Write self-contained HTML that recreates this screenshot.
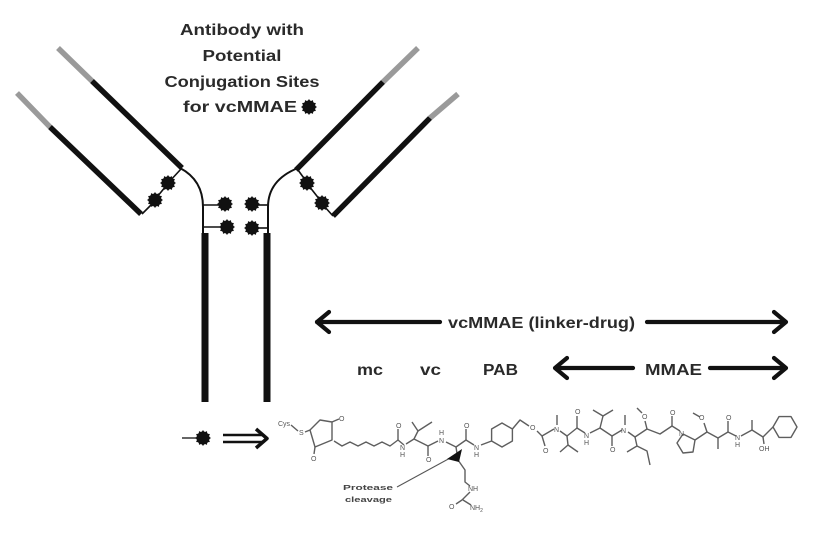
<!DOCTYPE html>
<html><head><meta charset="utf-8"><style>
html,body{margin:0;padding:0;background:#fff;}
svg{display:block;}
</style></head><body>
<svg width="836" height="533" viewBox="0 0 836 533" xmlns="http://www.w3.org/2000/svg">
<defs>
<g id="st">
<polygon fill="#111" points="8,0 5.8,1.55 6.93,4 4.24,4.24 4,6.93 1.55,5.8 0,8 -1.55,5.8 -4,6.93 -4.24,4.24 -6.93,4 -5.8,1.55 -8,0 -5.8,-1.55 -6.93,-4 -4.24,-4.24 -4,-6.93 -1.55,-5.8 0,-8 1.55,-5.8 4,-6.93 4.24,-4.24 6.93,-4 5.8,-1.55"/>
<circle r="6.5" fill="#111"/>
</g>
</defs>
<rect width="836" height="533" fill="#fff"/>

<!-- Title -->
<g font-family="Liberation Sans, sans-serif" font-weight="bold" font-size="16" fill="#2a2a2a" text-anchor="middle">
<text x="242" y="35" textLength="124" lengthAdjust="spacingAndGlyphs">Antibody with</text>
<text x="242" y="61" textLength="79" lengthAdjust="spacingAndGlyphs">Potential</text>
<text x="242" y="87" textLength="155" lengthAdjust="spacingAndGlyphs">Conjugation Sites</text>
<text x="240" y="112" textLength="114" lengthAdjust="spacingAndGlyphs">for vcMMAE</text>
</g>
<use href="#st" x="309" y="107"/>

<!-- Antibody arms -->
<g stroke-linecap="butt" fill="none">
<line x1="17" y1="93" x2="50" y2="127" stroke="#9a9a9a" stroke-width="5.5"/>
<line x1="50" y1="127" x2="141" y2="214" stroke="#111" stroke-width="5.5"/>
<line x1="58" y1="48" x2="92" y2="81" stroke="#9a9a9a" stroke-width="5.5"/>
<line x1="92" y1="81" x2="182" y2="168" stroke="#111" stroke-width="5.5"/>
<line x1="418" y1="48" x2="383" y2="82" stroke="#9a9a9a" stroke-width="5.5"/>
<line x1="383" y1="82" x2="296" y2="170" stroke="#111" stroke-width="5.5"/>
<line x1="458" y1="94" x2="430" y2="118" stroke="#9a9a9a" stroke-width="5.5"/>
<line x1="430" y1="118" x2="333" y2="216" stroke="#111" stroke-width="5.5"/>
<path d="M180,168 Q203,180 203,207 L203,234" stroke="#111" stroke-width="2"/>
<path d="M298,168 Q268,180 268,207 L268,234" stroke="#111" stroke-width="2"/>
<line x1="205" y1="233" x2="205" y2="402" stroke="#111" stroke-width="7"/>
<line x1="267" y1="233" x2="267" y2="402" stroke="#111" stroke-width="7"/>
<g stroke="#111" stroke-width="1.6">
<line x1="181" y1="169" x2="169" y2="182"/>
<line x1="166" y1="186" x2="157" y2="197"/>
<line x1="153" y1="203" x2="142" y2="214"/>
<line x1="298" y1="170" x2="306" y2="181"/>
<line x1="309" y1="186" x2="320" y2="200"/>
<line x1="324" y1="206" x2="333" y2="216"/>
<line x1="203" y1="205" x2="220" y2="205"/>
<line x1="203" y1="227" x2="220" y2="227"/>
<line x1="257" y1="205" x2="268" y2="205"/>
<line x1="257" y1="228" x2="268" y2="228"/>
</g>
</g>
<use href="#st" x="168" y="183"/>
<use href="#st" x="155" y="200"/>
<use href="#st" x="225" y="204"/>
<use href="#st" x="252" y="204"/>
<use href="#st" x="227" y="227"/>
<use href="#st" x="252" y="228"/>
<use href="#st" x="307" y="183"/>
<use href="#st" x="322" y="203"/>

<!-- Arrows -->
<g stroke="#111" stroke-width="4.2" fill="none" stroke-linecap="round" stroke-linejoin="round">
<line x1="317" y1="322" x2="440" y2="322"/>
<polyline points="329,312 317,322 329,332"/>
<line x1="647" y1="322" x2="784" y2="322"/>
<polyline points="774,312 786,322 774,332"/>
<line x1="556" y1="368" x2="633" y2="368"/>
<polyline points="567,358 555,368 567,378"/>
<line x1="710" y1="368" x2="784" y2="368"/>
<polyline points="774,358 786,368 774,378"/>
</g>
<g font-family="Liberation Sans, sans-serif" font-weight="bold" font-size="16" fill="#2a2a2a">
<text x="448" y="328" textLength="187" lengthAdjust="spacingAndGlyphs">vcMMAE (linker-drug)</text>
<text x="357" y="375" textLength="26" lengthAdjust="spacingAndGlyphs">mc</text>
<text x="420" y="375" textLength="21" lengthAdjust="spacingAndGlyphs">vc</text>
<text x="483" y="375" textLength="35" lengthAdjust="spacingAndGlyphs">PAB</text>
<text x="645" y="375" textLength="57" lengthAdjust="spacingAndGlyphs">MMAE</text>
</g>

<line x1="182" y1="438" x2="196" y2="438" stroke="#333" stroke-width="1.5"/>
<use href="#st" x="203" y="438"/>
<g stroke="#111" stroke-width="2.4" fill="none" stroke-linejoin="round">
<line x1="223" y1="435" x2="262" y2="435"/>
<line x1="223" y1="442" x2="262" y2="442"/>
<polyline points="256,429 267,438.5 256,448" stroke-width="3.5"/>
</g>

<!-- Chemical structure -->
<g stroke="#5e5e5e" stroke-width="1.4" fill="none" stroke-linejoin="round">
<line x1="291" y1="425" x2="298" y2="431"/>
<line x1="305" y1="432" x2="310" y2="430"/>
<polygon points="310,430 320,420 332,422 332,440 315,447"/>
<line x1="332" y1="422" x2="339" y2="419"/>
<line x1="315" y1="447" x2="314" y2="454"/>
<polyline points="334,441 342,446 350,442 358,446 366,442 374,446 382,442 390,446 398,440"/>
<line x1="398" y1="440" x2="398" y2="429"/>
<polyline points="398,440 404,445"/>
<polyline points="406,444 414,439 428,446 438,441"/>
<polyline points="414,439 418,431 412,422"/>
<line x1="418" y1="431" x2="432" y2="422"/>
<line x1="428" y1="446" x2="428" y2="456"/>
<polyline points="446,442 456,447 466,440 474,445"/>
<line x1="466" y1="440" x2="466" y2="429"/>
<polyline points="456,447 458,460 465,470 465,482 470,486"/>
<polyline points="470,492 462,500 456,504"/>
<line x1="463" y1="500" x2="471" y2="505"/>
<polyline points="481,445 491.6,441"/>
<polygon points="502,423 512.4,429 512.4,441 502,447 491.6,441 491.6,429"/>
<polyline points="512.4,429 520,420 529,426"/>
<polyline points="537,431 542,436 554,429"/>
<line x1="542" y1="436" x2="545" y2="446"/>
<line x1="557" y1="425" x2="557" y2="415"/>
<polyline points="560,431 567,436 577,428 585,433"/>
<polyline points="567,436 568,445 560,452"/>
<line x1="568" y1="445" x2="578" y2="452"/>
<line x1="577" y1="428" x2="577" y2="416"/>
<polyline points="590,433 600,428 612,436 622,430"/>
<polyline points="600,428 603,416 593,410"/>
<line x1="603" y1="416" x2="613" y2="410"/>
<line x1="612" y1="436" x2="612" y2="446"/>
<line x1="625" y1="425" x2="625" y2="415"/>
<polyline points="628,432 635,437 647,429 660,434 672,426 680,431"/>
<polyline points="635,437 637,446 627,452"/>
<polyline points="637,446 647,451 650,465"/>
<line x1="647" y1="429" x2="645" y2="421"/>
<line x1="642" y1="413" x2="637" y2="408"/>
<line x1="672" y1="426" x2="672" y2="416"/>
<polygon points="683,434 677,443 683,453 693,452 695,440"/>
<polyline points="695,440 707,432 718,438 728,432 736,436"/>
<line x1="707" y1="432" x2="704" y2="423"/>
<line x1="700" y1="417" x2="693" y2="413"/>
<line x1="718" y1="438" x2="718" y2="449"/>
<line x1="728" y1="432" x2="728" y2="421"/>
<polyline points="741,436 752,430 763,437 773,427"/>
<line x1="752" y1="430" x2="752" y2="420"/>
<line x1="763" y1="437" x2="764" y2="444"/>
<polygon points="797,427 791,437.4 779,437.4 773,427 779,416.6 791,416.6"/>
</g>
<g font-family="Liberation Sans, sans-serif" font-size="7" fill="#555">
<text x="278" y="426">Cys</text>
<text x="299" y="435">S</text>
<text x="339" y="421">O</text>
<text x="311" y="461">O</text>
<text x="396" y="428">O</text>
<text x="400" y="450">N</text>
<text x="400" y="457">H</text>
<text x="426" y="462">O</text>
<text x="439" y="443">N</text>
<text x="439" y="435">H</text>
<text x="464" y="428">O</text>
<text x="474" y="450">N</text>
<text x="474" y="457">H</text>
<text x="468" y="491">NH</text>
<text x="449" y="509">O</text>
<text x="470" y="510">NH<tspan font-size="5" dy="2">2</tspan></text>
<text x="530" y="430">O</text>
<text x="543" y="453">O</text>
<text x="554" y="432">N</text>
<text x="575" y="414">O</text>
<text x="584" y="438">N</text>
<text x="584" y="445">H</text>
<text x="610" y="452">O</text>
<text x="621" y="433">N</text>
<text x="642" y="419">O</text>
<text x="670" y="415">O</text>
<text x="679" y="436">N</text>
<text x="699" y="420">O</text>
<text x="726" y="420">O</text>
<text x="735" y="440">N</text>
<text x="735" y="447">H</text>
<text x="759" y="451">OH</text>
</g>
<line x1="397" y1="487" x2="452" y2="457" stroke="#555" stroke-width="1"/>
<polygon points="447,459 462,449 459,462" fill="#111"/>
<g font-family="Liberation Sans, sans-serif" font-size="7" font-weight="bold" fill="#444">
<text x="343" y="490" textLength="50" lengthAdjust="spacingAndGlyphs">Protease</text>
<text x="345" y="502" textLength="47" lengthAdjust="spacingAndGlyphs">cleavage</text>
</g>
</svg>
</body></html>
